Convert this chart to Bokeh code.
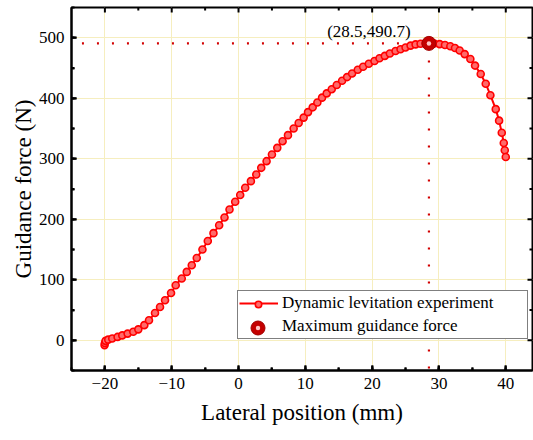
import numpy as np
from bokeh.plotting import figure
from bokeh.models import Range1d, SingleIntervalTicker, Legend, LegendItem, Label
from bokeh.embed import file_html
from bokeh.resources import INLINE

# ---------------- data ----------------
x_mm = [-20.05, -20.0, -19.9, -19.5, -18.9, -18.1, -17.4, -16.6, -15.75, -15.0,
        -14.1, -13.4, -12.5, -11.75, -11.0, -10.1, -9.4, -8.5, -7.75, -7.0,
        -6.25, -5.4, -4.6, -3.75, -2.9, -2.1, -1.35, -0.5, 0.25, 1.0,
        1.85, 2.65, 3.4, 4.2, 5.0, 5.8, 6.6, 7.4, 8.25, 9.0,
        9.75, 10.4, 11.1, 11.8, 12.5, 13.2, 13.95, 14.7, 15.5, 16.25,
        17.0, 17.85, 18.65, 19.5, 20.35, 21.1, 21.9, 22.65, 23.5, 24.25,
        25.0, 25.75, 26.5, 27.25, 28.0, 28.5, 29.3, 30.1, 30.9, 31.7,
        32.4, 33.1, 33.85, 34.7, 35.4, 36.25, 37.0, 37.7, 38.5, 39.0,
        39.4, 39.7, 39.85, 40.0]
force_n = [-8, -4.5, -1, 1, 3, 5.5, 8, 11, 14, 18,
           25, 33, 45, 55, 66, 78, 91, 102, 113, 124,
           136, 150, 164, 177, 190, 203, 216, 229, 240, 252,
           263, 274, 285, 296, 307, 318, 329, 339, 350, 359,
           368, 377, 385, 393, 401, 408, 415, 422, 429, 435,
           441, 447, 452, 457, 461.5, 466, 470, 474, 478, 481,
           484, 487, 489, 490.2, 490.6, 490.7, 490.4, 489.5, 488, 486,
           483, 479, 473, 465, 454, 440, 424, 405, 382, 363,
           343, 326, 314, 303]

x_limits = [-25, 44]
y_limits = [-50, 550]
x_tick_step = 10
y_tick_step = 100

x_title = "Lateral position (mm)"
y_title = "Guidance force (N)"
series_name = "Dynamic levitation experiment"
peak_name = "Maximum guidance force"

assert len(x_mm) == len(force_n)

FONT = "Liberation Serif"
RED = "#ff0000"
DOT_RED = "#d20000"

W, H = 533, 440
BORDER_L, BORDER_R, BORDER_T, BORDER_B = 71, 1, 7, 70
FRAME_W = W - BORDER_L - BORDER_R
FRAME_H = H - BORDER_T - BORDER_B

# ---------------- figure ----------------
p = figure(width=W, height=H, output_backend="svg", toolbar_location=None,
           x_range=Range1d(*x_limits), y_range=Range1d(*y_limits),
           min_border_left=BORDER_L, min_border_right=BORDER_R,
           min_border_top=BORDER_T, min_border_bottom=BORDER_B)
p.outline_line_color = "black"
p.outline_line_width = 2
p.background_fill_color = None
p.border_fill_color = None


def style_axis(ax, interval):
    ax.ticker = SingleIntervalTicker(interval=interval, num_minor_ticks=2)
    ax.axis_line_width = 2
    ax.axis_line_color = "#000000"
    ax.major_tick_in = 5
    ax.major_tick_out = 0
    ax.minor_tick_in = 3
    ax.minor_tick_out = 0
    ax.major_tick_line_width = 2
    ax.minor_tick_line_width = 2
    ax.major_label_text_font = FONT
    ax.major_label_text_font_size = "17px"
    ax.major_label_text_color = "#000000"
    ax.axis_label_text_font = FONT
    ax.axis_label_text_font_size = "23px"
    ax.axis_label_text_font_style = "normal"
    ax.axis_label_text_color = "#000000"


style_axis(p.xaxis[0], x_tick_step)
style_axis(p.yaxis[0], y_tick_step)
p.xaxis[0].axis_label = x_title
p.yaxis[0].axis_label = y_title
p.xaxis[0].major_label_standoff = 7
p.yaxis[0].major_label_standoff = 7
p.xaxis[0].axis_label_standoff = 8
p.yaxis[0].axis_label_standoff = 0

p.xgrid.ticker = SingleIntervalTicker(interval=x_tick_step)
p.ygrid.ticker = SingleIntervalTicker(interval=y_tick_step)
p.xgrid.grid_line_color = "#f6eebf"
p.ygrid.grid_line_color = "#f6eebf"
p.xgrid.grid_line_width = 1
p.ygrid.grid_line_width = 1


# ---------------- inward ticks on all four sides ----------------
def tick_positions(lo, hi, step):
    vals = np.arange(np.ceil(lo / step) * step, hi + 1e-9, step)
    return [float(v) for v in vals if lo < v < hi]


x_major = tick_positions(*x_limits, x_tick_step)
x_minor = [v for v in tick_positions(*x_limits, x_tick_step / 2) if v not in x_major]
y_major = tick_positions(*y_limits, y_tick_step)
y_minor = [v for v in tick_positions(*y_limits, y_tick_step / 2) if v not in y_major]

x_per_px = (x_limits[1] - x_limits[0]) / FRAME_W
y_per_px = (y_limits[1] - y_limits[0]) / FRAME_H

for ticks, length in ((x_major, 5), (x_minor, 3)):
    n = len(ticks)
    dy = length * y_per_px
    p.segment(x0=ticks, x1=ticks, y0=[y_limits[0]] * n, y1=[y_limits[0] + dy] * n,
              line_color="black", line_width=2)
    p.segment(x0=ticks, x1=ticks, y0=[y_limits[1]] * n, y1=[y_limits[1] - dy] * n,
              line_color="black", line_width=2)
for ticks, length in ((y_major, 5), (y_minor, 3)):
    n = len(ticks)
    dx = length * x_per_px
    p.segment(y0=ticks, y1=ticks, x0=[x_limits[0]] * n, x1=[x_limits[0] + dx] * n,
              line_color="black", line_width=2)
    p.segment(y0=ticks, y1=ticks, x0=[x_limits[1]] * n, x1=[x_limits[1] - dx] * n,
              line_color="black", line_width=2)

# ---------------- peak guide lines ----------------
i_peak = int(np.argmax(force_n))
peak_x = x_mm[i_peak]
peak_y = force_n[i_peak]

p.segment(x0=[peak_x], y0=[peak_y], x1=[x_limits[0]], y1=[peak_y],
          line_color=DOT_RED, line_width=2.2, line_dash="2 13", line_cap="butt")
p.segment(x0=[peak_x], y0=[peak_y], x1=[peak_x], y1=[y_limits[0]],
          line_color=DOT_RED, line_width=2.2, line_dash="2 15", line_cap="butt")

# ---------------- experiment curve ----------------
line_r = p.line(x_mm, force_n, line_color=RED, line_width=2)
pts_r = p.scatter(x_mm, force_n, size=7, fill_color="#ff6a6a",
                  line_color=RED, line_width=1.6)

# ---------------- peak marker ----------------
peak_base = p.scatter([peak_x], [peak_y], size=14, fill_color="#c40000",
                      line_color="#a00000", line_width=1)
peak_hl = p.scatter([peak_x], [peak_y], size=4.5, fill_color="#ffc4c4",
                    line_color=None)
dummy = p.scatter([peak_x], [peak_y], size=1, fill_alpha=0, line_alpha=0)

p.add_layout(Label(x=peak_x, y=peak_y, text=f"({peak_x:g},{peak_y:g})",
                   x_offset=-60, y_offset=12, text_align="center",
                   text_baseline="middle", text_font=FONT,
                   text_font_size="17px", text_color="black"))

# ---------------- legend ----------------
leg = Legend(items=[LegendItem(label=series_name, renderers=[line_r]),
                    LegendItem(label=peak_name, renderers=[dummy])],
             location=(166, 31), margin=0, padding=1, spacing=1,
             glyph_width=39, glyph_height=22, label_height=22,
             label_width=244, label_standoff=4, label_text_font=FONT,
             label_text_font_size="17px", label_text_color="black",
             border_line_color="black", border_line_width=1,
             background_fill_color="white", background_fill_alpha=1)
p.add_layout(leg, "center")

GLYPH_CX = 166 + 1 + 39 / 2          # legend glyph column centre (frame px)
ROW1_CY = 31 + 1 + 22 + 1 + 22 / 2   # row 1 centre above frame bottom
ROW2_CY = 31 + 1 + 22 / 2            # row 2 centre above frame bottom


def overlay(renderer, box, cx, cy):
    lg = Legend(items=[LegendItem(label=" ", renderers=[renderer])],
                location=(cx - box / 2, cy - box / 2), margin=0, padding=0,
                spacing=0, glyph_width=box, glyph_height=box, label_width=0,
                label_height=1, label_standoff=0, label_text_font_size="1px",
                border_line_alpha=0, background_fill_alpha=0)
    p.add_layout(lg, "center")


overlay(pts_r, 16, GLYPH_CX, ROW1_CY)
overlay(peak_base, 35, GLYPH_CX, ROW2_CY)
overlay(peak_hl, 11, GLYPH_CX, ROW2_CY)

open("out.html", "w").write(file_html(p, INLINE))
